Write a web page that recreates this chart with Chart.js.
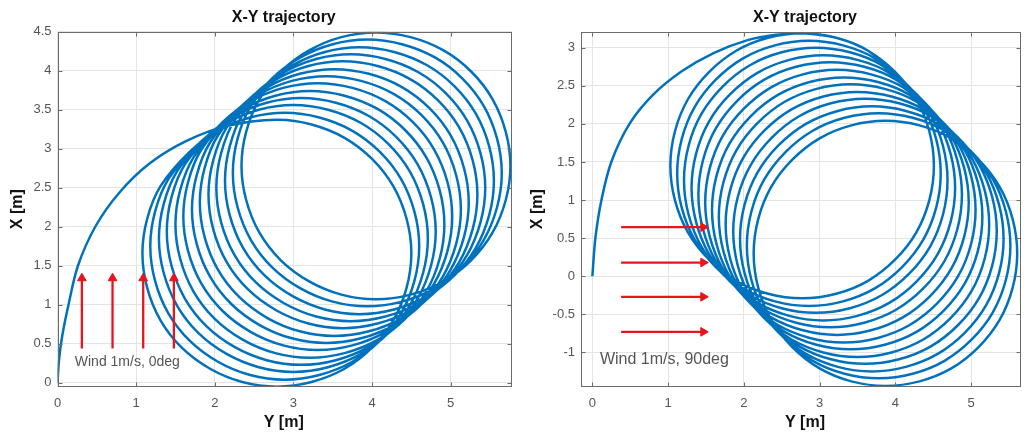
<!DOCTYPE html>
<html>
<head>
<meta charset="utf-8">
<title>X-Y trajectory</title>
<script src="https://cdn.jsdelivr.net/npm/chart.js@4.4.1/dist/chart.umd.min.js"></script>
<style>
  html, body { margin: 0; padding: 0; background: #fff; }
  body { width: 1027px; height: 433px; position: relative; overflow: hidden; }
  canvas { position: absolute; top: 0; }
  #chartWind0 { left: 0; }
  #chartWind90 { left: 520px; }
</style>
</head>
<body>
<canvas id="chartWind0" width="520" height="433"></canvas>
<canvas id="chartWind90" width="507" height="433"></canvas>
<script>
// Horizontal axis is Y [m], vertical axis is X [m] (as in the figure)

// ---- wind 0 deg (left panel) ----
const w0EntryY = [0, 0.02, 0.06, 0.14, 0.26, 0.48, 0.78, 1.17, 1.64, 2.15];
const w0EntryX = [0, 0.30, 0.60, 1.00, 1.50, 2.00, 2.43, 2.81, 3.10, 3.29];
// first loop, clockwise from its upper-left side
const w0LoopY = [1.58, 1.94, 2.35, 2.79, 3.23, 3.65, 4.00, 4.27, 4.44, 4.50, 4.44, 4.27,
                 4.00, 3.65, 3.23, 2.79, 2.35, 1.94, 1.58, 1.31, 1.14, 1.08, 1.14, 1.31];
const w0LoopX = [2.87, 3.14, 3.31, 3.37, 3.31, 3.14, 2.87, 2.52, 2.10, 1.66, 1.22, 0.80,
                 0.45, 0.18, 0.01, -0.05, 0.01, 0.18, 0.45, 0.80, 1.22, 1.66, 2.10, 2.52];
// drift of every loop from the first one
const w0DriftY = [0, 0.10, 0.21, 0.31, 0.42, 0.52, 0.63, 0.73, 0.84, 0.94, 1.05, 1.15, 1.26];
const w0DriftX = [0, 0.09, 0.19, 0.28, 0.37, 0.47, 0.56, 0.65, 0.75, 0.84, 0.93, 1.03, 1.12];
const w0LoopStart = 3; // entry arc meets the first loop at its top
const w0ArrowAt = [0.31, 0.70, 1.09, 1.48]; // Y [m]
const w0ArrowFrom = 0.44;
const w0ArrowTo = 1.34;
const w0Ticks = { h: [0, 1, 2, 3, 4, 5], v: [0, 0.5, 1, 1.5, 2, 2.5, 3, 3.5, 4, 4.5] };
const w0TickLabels = {
  h: ['0', '1', '2', '3', '4', '5'],
  v: ['0', '0.5', '1', '1.5', '2', '2.5', '3', '3.5', '4', '4.5']
};

// ---- wind 90 deg (right panel) ----
const w90EntryY = [0, 0.04, 0.12, 0.25, 0.49, 0.80, 1.18, 1.60, 2.05, 2.43, 2.77, 3.22, 3.64];
const w90EntryX = [0, 0.50, 1.00, 1.50, 2.00, 2.38, 2.69, 2.93, 3.10, 3.17, 3.19, 3.13, 2.96];
// first loop, clockwise from its upper-right side
const w90LoopY = [4.00, 4.28, 4.45, 4.51, 4.45, 4.28, 4.00, 3.64, 3.22, 2.77, 2.32, 1.90,
                  1.54, 1.26, 1.09, 1.03, 1.09, 1.26, 1.54, 1.90, 2.32, 2.77, 3.22, 3.64];
const w90LoopX = [2.68, 2.32, 1.90, 1.45, 1.00, 0.58, 0.22, -0.06, -0.23, -0.29, -0.23, -0.06,
                  0.22, 0.58, 1.00, 1.45, 1.90, 2.32, 2.68, 2.96, 3.13, 3.19, 3.13, 2.96];
const w90DriftY = [0, 0.09, 0.18, 0.28, 0.37, 0.46, 0.55, 0.64, 0.73, 0.83, 0.92, 1.01, 1.10];
const w90DriftX = [0, -0.10, -0.19, -0.29, -0.38, -0.48, -0.58, -0.67, -0.77, -0.86, -0.96, -1.05, -1.15];
const w90LoopStart = 0;
const w90ArrowAt = [0.645, 0.18, -0.27, -0.73]; // X [m]
const w90ArrowFrom = 0.38;
const w90ArrowTo = 1.465;
const w90Ticks = { h: [0, 1, 2, 3, 4, 5], v: [-1, -0.5, 0, 0.5, 1, 1.5, 2, 2.5, 3] };
const w90TickLabels = {
  h: ['0', '1', '2', '3', '4', '5'],
  v: ['-1', '-0.5', '0', '0.5', '1', '1.5', '2', '2.5', '3']
};

const lineBlue = '#0072bd';
const arrowRed = '#e8141b';
const gridColor = '#e4e4e4';
const fontFamily = '"Liberation Sans", Arial, sans-serif';

// join the entry arc and the drifting loops into one path
function buildPath(entryH, entryV, loopH, loopV, driftH, driftV, start) {
  const pts = entryH.map((h, i) => ({ x: h, y: entryV[i] }));
  driftH.forEach((dh, k) => {
    loopH.forEach((h, i) => {
      if (k === 0 && i < start) return;
      pts.push({ x: h + dh, y: loopV[i] + driftV[k] });
    });
  });
  const last = driftH.length - 1;
  pts.push({ x: loopH[0] + driftH[last], y: loopV[0] + driftV[last] });
  return pts;
}

// MATLAB-like box, inward ticks, titles and note
const matlabBox = {
  id: 'matlabBox',
  afterDatasetsDraw(chart, args, opts) {
    const { ctx, chartArea: a, scales } = chart;
    ctx.save();
    ctx.strokeStyle = '#6b6b6b';
    ctx.lineWidth = 1;
    const l = Math.round(a.left) + 0.5, t = Math.round(a.top) + 0.5;
    const r = Math.round(a.right) - 0.5, b = Math.round(a.bottom) - 0.5;
    ctx.strokeRect(l, t, r - l, b - t);
    const len = 4;
    ctx.beginPath();
    scales.x.ticks.forEach(tk => {
      const px = Math.round(scales.x.getPixelForValue(tk.value)) + 0.5;
      ctx.moveTo(px, b); ctx.lineTo(px, b - len);
      ctx.moveTo(px, t); ctx.lineTo(px, t + len);
    });
    scales.y.ticks.forEach(tk => {
      const py = Math.round(scales.y.getPixelForValue(tk.value)) + 0.5;
      ctx.moveTo(l, py); ctx.lineTo(l + len, py);
      ctx.moveTo(r, py); ctx.lineTo(r - len, py);
    });
    ctx.stroke();

    // wind note
    const note = opts.note;
    ctx.fillStyle = '#555';
    ctx.font = note.size + 'px ' + fontFamily;
    ctx.textAlign = 'left';
    ctx.textBaseline = 'middle';
    ctx.fillText(note.text, scales.x.getPixelForValue(note.x), scales.y.getPixelForValue(note.y));

    // titles
    const cx = (a.left + a.right) / 2 + (opts.shift || 0);
    ctx.fillStyle = '#111';
    ctx.textAlign = 'center';
    ctx.font = 'bold 16px ' + fontFamily;
    ctx.fillText(opts.title, cx, 18);
    ctx.fillText(opts.xLabel, cx, 423);
    ctx.translate(18, (a.top + a.bottom) / 2);
    ctx.rotate(-Math.PI / 2);
    ctx.fillText(opts.yLabel, 0, 0);
    ctx.restore();
  }
};

function makeChart(canvasId, cfg) {
  const tickFont = { family: fontFamily, size: 13 };
  const datasets = [{
    data: cfg.path,
    showLine: true,
    borderColor: lineBlue,
    borderWidth: 2.5,
    pointRadius: 0,
    tension: 0.33,
    fill: false,
    order: 1
  }].concat(cfg.arrows.map(seg => ({
    data: seg,
    showLine: true,
    borderColor: arrowRed,
    backgroundColor: arrowRed,
    borderWidth: 2.3,
    pointRadius: [0, 5],
    pointStyle: 'triangle',
    pointRotation: cfg.arrowRotation,
    pointBackgroundColor: arrowRed,
    pointBorderColor: arrowRed,
    pointBorderWidth: 1,
    order: 0
  })));

  return new Chart(document.getElementById(canvasId), {
    type: 'scatter',
    data: { datasets },
    options: {
      responsive: false,
      animation: false,
      devicePixelRatio: 1,
      events: [],
      layout: { padding: { left: 0, right: cfg.padRight, top: 31.7, bottom: 0 } },
      plugins: {
        legend: { display: false },
        tooltip: { enabled: false },
        matlabBox: cfg.box
      },
      scales: {
        x: {
          type: 'linear',
          min: cfg.hRange[0],
          max: cfg.hRange[1],
          afterBuildTicks: s => { s.ticks = cfg.ticks.h.map(v => ({ value: v })); },
          afterFit: s => { s.height = 46.3; },
          ticks: {
            callback: (v, i) => cfg.labels.h[i],
            font: tickFont, color: '#555', padding: 9, maxRotation: 0, autoSkip: false
          },
          grid: { color: gridColor, drawTicks: false },
          border: { display: false }
        },
        y: {
          type: 'linear',
          min: cfg.vRange[0],
          max: cfg.vRange[1],
          afterBuildTicks: s => { s.ticks = cfg.ticks.v.map(v => ({ value: v })); },
          afterFit: s => { s.width = cfg.yAxisWidth; },
          ticks: {
            callback: (v, i) => cfg.labels.v[i],
            font: tickFont, color: '#555', padding: 6, autoSkip: false
          },
          grid: { color: gridColor, drawTicks: false },
          border: { display: false }
        }
      }
    },
    plugins: [matlabBox]
  });
}

// left: wind 0 deg, arrows point up
makeChart('chartWind0', {
  path: buildPath(w0EntryY, w0EntryX, w0LoopY, w0LoopX, w0DriftY, w0DriftX, w0LoopStart),
  arrows: w0ArrowAt.map(h => [{ x: h, y: w0ArrowFrom }, { x: h, y: w0ArrowTo }]),
  arrowRotation: 0,
  hRange: [0, 5.78],
  vRange: [-0.05, 4.5],
  ticks: w0Ticks,
  labels: w0TickLabels,
  yAxisWidth: 57.5,
  padRight: 8,
  box: {
    title: 'X-Y trajectory', xLabel: 'Y [m]', yLabel: 'X [m]', shift: -1,
    note: { text: 'Wind 1m/s, 0deg', x: 0.22, y: 0.26, size: 14 }
  }
});

// right: wind 90 deg, arrows point right
makeChart('chartWind90', {
  path: buildPath(w90EntryY, w90EntryX, w90LoopY, w90LoopX, w90DriftY, w90DriftX, w90LoopStart),
  arrows: w90ArrowAt.map(v => [{ x: w90ArrowFrom, y: v }, { x: w90ArrowTo, y: v }]),
  arrowRotation: 90,
  hRange: [-0.15, 5.66],
  vRange: [-1.45, 3.21],
  ticks: w90Ticks,
  labels: w90TickLabels,
  yAxisWidth: 61,
  padRight: 0,
  box: {
    title: 'X-Y trajectory', xLabel: 'Y [m]', yLabel: 'X [m]', shift: 4,
    note: { text: 'Wind 1m/s, 90deg', x: 0.10, y: -1.10, size: 16 }
  }
});
</script>
</body>
</html>
